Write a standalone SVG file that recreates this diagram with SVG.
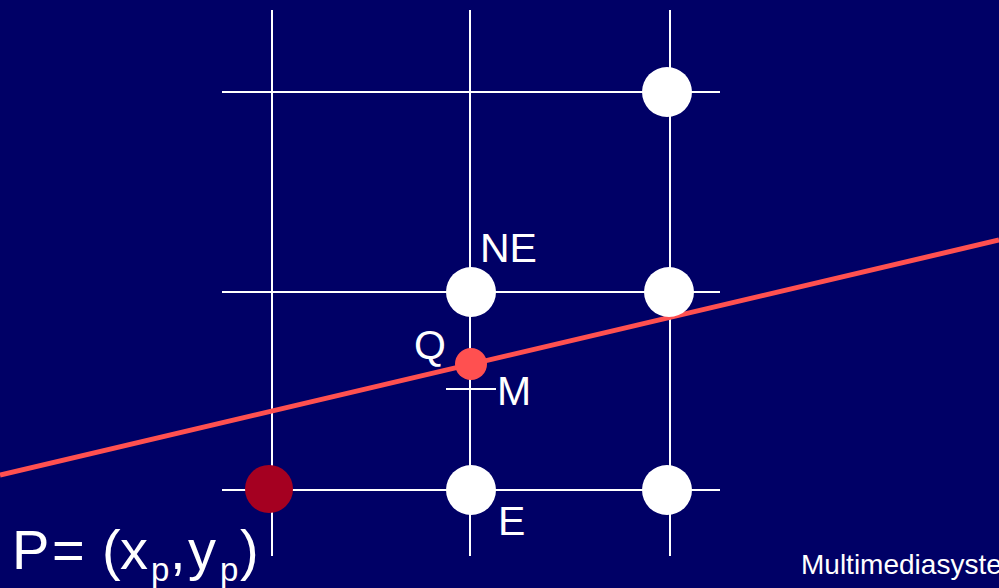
<svg xmlns="http://www.w3.org/2000/svg" width="999" height="588" viewBox="0 0 999 588">
<style>
.g{stroke:#fff;stroke-width:2;fill:none}
.dot{fill:#fff}
.t{font-family:"Liberation Sans",Arial,sans-serif;fill:#fff}
</style>
<rect width="999" height="588" fill="#000066"/>
<g id="grid">
<line class="g" x1="272" y1="10" x2="272" y2="556"/>
<line class="g" x1="470" y1="10" x2="470" y2="556"/>
<line class="g" x1="670" y1="10" x2="670" y2="556"/>
<line class="g" x1="222" y1="92" x2="720" y2="92"/>
<line class="g" x1="222" y1="292" x2="720" y2="292"/>
<line class="g" x1="222" y1="490" x2="720" y2="490"/>
<line class="g" x1="446" y1="389" x2="496" y2="389"/>
</g>
<g id="connectors">
<line x1="0" y1="475" x2="999" y2="240" stroke="#ff5050" stroke-width="5"/>
</g>
<g id="n1"><circle class="dot" cx="667" cy="92" r="25"/></g>
<g id="NE"><circle class="dot" cx="471" cy="292" r="25"/><text class="t" x="480" y="262" font-size="41">NE</text></g>
<g id="n3"><circle class="dot" cx="669" cy="292" r="25"/></g>
<g id="E"><circle class="dot" cx="471" cy="490" r="25"/><text class="t" x="498" y="535" font-size="41">E</text></g>
<g id="n5"><circle class="dot" cx="667" cy="490" r="25"/></g>
<g id="P"><circle cx="269" cy="489" r="24" fill="#a50021"/>
<text class="t" y="569" font-size="56"><tspan x="12">P</tspan><tspan x="52">=</tspan><tspan x="102">(</tspan><tspan x="120">x</tspan><tspan x="151" font-size="33" dy="12">p</tspan><tspan x="170" dy="-12">,</tspan><tspan x="188">y</tspan><tspan x="220" font-size="33" dy="12">p</tspan><tspan x="240" dy="-12">)</tspan></text></g>
<g id="Q"><circle cx="471" cy="364" r="16" fill="#ff5050"/><text class="t" x="414" y="359" font-size="41">Q</text></g>
<g id="M"><text class="t" x="497" y="405" font-size="41">M</text></g>
<text class="t" x="801" y="574" font-size="28">Multimediasysteme</text>
</svg>
